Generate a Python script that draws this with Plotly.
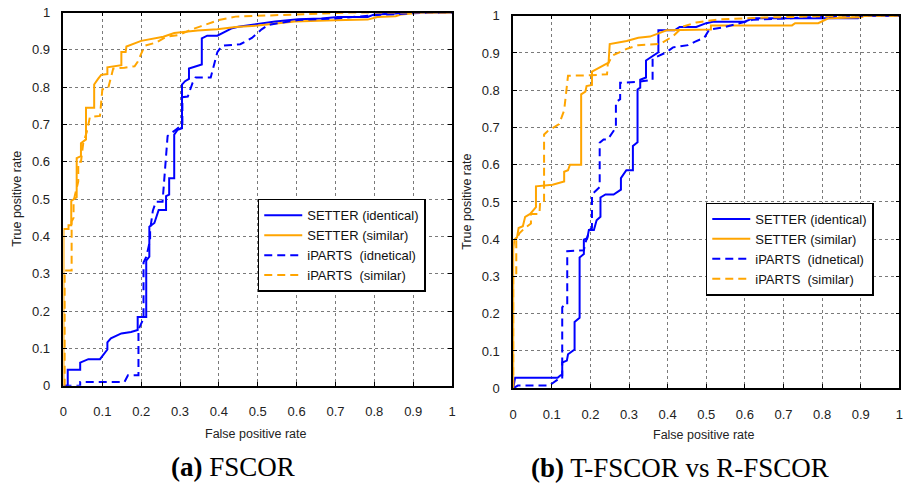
import plotly.graph_objects as go

W, H = 910, 488

# ---------------- data ----------------
# (a) FSCOR
a_setter_ident_x = [0, 0.011, 0.011, 0.043, 0.043, 0.064, 0.094, 0.102, 0.113, 0.113, 0.122, 0.149, 0.174, 0.191,
                    0.191, 0.213, 0.213, 0.221, 0.221, 0.234, 0.245, 0.264, 0.264, 0.272, 0.272, 0.285, 0.285, 0.294,
                    0.305, 0.305, 0.313, 0.323, 0.323, 0.356, 0.356, 0.370, 0.396, 0.434, 0.450, 0.545, 0.604, 0.664,
                    0.706, 0.783, 0.800, 0.911, 1.0]
a_setter_ident_y = [0, 0, 0.043, 0.043, 0.062, 0.071, 0.071, 0.081, 0.097, 0.116, 0.127, 0.140, 0.144, 0.149,
                    0.184, 0.184, 0.335, 0.346, 0.426, 0.436, 0.471, 0.471, 0.508, 0.512, 0.556, 0.556, 0.673, 0.686,
                    0.690, 0.807, 0.816, 0.822, 0.850, 0.861, 0.931, 0.938, 0.938, 0.958, 0.962, 0.976, 0.982, 0.984,
                    0.988, 0.988, 0.995, 1.0, 1.0]

a_setter_sim_x = [0, 0, 0.013, 0.013, 0.020, 0.020, 0.034, 0.034, 0.045, 0.045, 0.058, 0.058, 0.079, 0.079, 0.089,
                  0.097, 0.113, 0.113, 0.149, 0.149, 0.160, 0.162, 0.200, 0.234, 0.257, 0.285, 0.345, 0.396, 0.443,
                  0.500, 0.595, 0.698, 0.783, 0.808, 0.855, 0.870, 0.919, 1.0]
a_setter_sim_y = [0, 0.420, 0.420, 0.430, 0.430, 0.495, 0.505, 0.610, 0.615, 0.650, 0.660, 0.745, 0.745, 0.807, 0.822,
                  0.833, 0.835, 0.853, 0.859, 0.894, 0.894, 0.909, 0.924, 0.930, 0.935, 0.945, 0.952, 0.955, 0.961,
                  0.965, 0.976, 0.979, 0.981, 0.988, 0.990, 0.995, 1.0, 1.0]

a_iparts_ident_x = [0, 0.043, 0.043, 0.157, 0.166, 0.193, 0.193, 0.206, 0.206, 0.213, 0.223, 0.223, 0.230, 0.238,
                    0.255, 0.262, 0.268, 0.289, 0.306, 0.306, 0.320, 0.332, 0.340, 0.379, 0.396, 0.408, 0.455, 0.485,
                    0.510, 0.528, 0.604, 0.715, 0.800, 0.944, 1.0]
a_iparts_ident_y = [0, 0, 0.010, 0.010, 0.028, 0.028, 0.150, 0.180, 0.330, 0.345, 0.390, 0.417, 0.469, 0.493,
                    0.493, 0.590, 0.669, 0.686, 0.700, 0.773, 0.775, 0.811, 0.826, 0.826, 0.894, 0.911, 0.915, 0.932,
                    0.955, 0.967, 0.980, 0.985, 0.993, 1.0, 1.0]

a_iparts_sim_x = [0, 0.003, 0.003, 0.021, 0.021, 0.026, 0.026, 0.038, 0.038, 0.045, 0.051, 0.060, 0.068, 0.094,
                  0.100, 0.115, 0.123, 0.128, 0.157, 0.183, 0.191, 0.204, 0.209, 0.240, 0.264, 0.298, 0.328, 0.353,
                  0.379, 0.400, 0.443, 0.528, 0.740, 1.0]
a_iparts_sim_y = [0, 0, 0.309, 0.309, 0.440, 0.450, 0.495, 0.547, 0.600, 0.600, 0.651, 0.680, 0.720, 0.723,
                  0.794, 0.797, 0.829, 0.850, 0.852, 0.856, 0.868, 0.902, 0.911, 0.920, 0.935, 0.940, 0.954, 0.963,
                  0.972, 0.980, 0.989, 0.992, 1.0, 1.0]

# (b) T-FSCOR vs R-FSCOR
b_setter_ident_x = [0, 0.005, 0.115, 0.123, 0.127, 0.127, 0.139, 0.142, 0.159, 0.159, 0.172, 0.172, 0.183, 0.183,
                    0.192, 0.196, 0.209, 0.216, 0.226, 0.226, 0.239, 0.260, 0.279, 0.279, 0.293, 0.310, 0.310, 0.322,
                    0.322, 0.329, 0.329, 0.344, 0.344, 0.376, 0.376, 0.418, 0.431, 0.474, 0.500, 0.517, 0.600, 0.620,
                    0.893, 0.900, 1.0]
b_setter_ident_y = [0, 0.028, 0.028, 0.035, 0.035, 0.069, 0.074, 0.091, 0.104, 0.178, 0.189, 0.351, 0.360, 0.399,
                    0.403, 0.425, 0.425, 0.451, 0.460, 0.512, 0.520, 0.520, 0.533, 0.564, 0.585, 0.585, 0.650, 0.660,
                    0.802, 0.807, 0.828, 0.834, 0.880, 0.902, 0.961, 0.961, 0.970, 0.970, 0.980, 0.984, 0.984, 0.993,
                    0.993, 1.0, 1.0]

b_setter_sim_x = [0, 0, 0.003, 0.010, 0.014, 0.025, 0.031, 0.044, 0.059, 0.059, 0.102, 0.132, 0.132, 0.142, 0.147,
                  0.176, 0.176, 0.187, 0.190, 0.204, 0.204, 0.247, 0.250, 0.294, 0.324, 0.354, 0.380, 0.397, 0.512,
                  0.512, 0.722, 0.730, 0.790, 0.816, 0.902, 0.910, 1.0]
b_setter_sim_y = [0, 0.372, 0.399, 0.405, 0.430, 0.435, 0.460, 0.468, 0.486, 0.542, 0.546, 0.555, 0.581, 0.585, 0.600,
                  0.600, 0.789, 0.796, 0.811, 0.814, 0.850, 0.874, 0.924, 0.932, 0.941, 0.944, 0.954, 0.961, 0.963,
                  0.974, 0.974, 0.980, 0.980, 0.993, 0.996, 1.0, 1.0]

b_iparts_ident_x = [0, 0.012, 0.093, 0.119, 0.127, 0.127, 0.132, 0.140, 0.140, 0.183, 0.187, 0.198, 0.204, 0.204,
                    0.224, 0.224, 0.234, 0.245, 0.266, 0.266, 0.277, 0.277, 0.320, 0.361, 0.361, 0.380, 0.397, 0.414,
                    0.453, 0.470, 0.495, 0.508, 0.542, 0.620, 0.816, 0.860, 1.0]
b_iparts_ident_y = [0, 0.007, 0.007, 0.026, 0.026, 0.217, 0.224, 0.224, 0.368, 0.370, 0.390, 0.425, 0.430, 0.520,
                    0.540, 0.659, 0.668, 0.668, 0.700, 0.768, 0.776, 0.820, 0.822, 0.828, 0.885, 0.893, 0.902, 0.915,
                    0.921, 0.930, 0.941, 0.963, 0.968, 0.989, 0.997, 1.0, 1.0]

b_iparts_sim_x = [0, 0, 0.008, 0.008, 0.016, 0.030, 0.046, 0.046, 0.068, 0.070, 0.080, 0.080, 0.089, 0.119, 0.132,
                  0.137, 0.142, 0.142, 0.200, 0.243, 0.245, 0.252, 0.257, 0.294, 0.324, 0.380, 0.414, 0.440, 0.474,
                  0.534, 0.650, 0.858, 1.0]
b_iparts_sim_y = [0, 0.303, 0.303, 0.399, 0.416, 0.430, 0.442, 0.468, 0.468, 0.503, 0.503, 0.681, 0.690, 0.709, 0.746,
                  0.789, 0.824, 0.839, 0.840, 0.843, 0.870, 0.885, 0.893, 0.911, 0.921, 0.924, 0.945, 0.971, 0.982,
                  0.990, 0.995, 1.0, 1.0]

series_names = ["SETTER (identical)", "SETTER (similar)", "iPARTS\u00a0\u00a0(idnetical)", "iPARTS\u00a0\u00a0(similar)"]
tick_vals = [0, 0.1, 0.2, 0.3, 0.4, 0.5, 0.6, 0.7, 0.8, 0.9, 1]
tick_text = ["0", "0.1", "0.2", "0.3", "0.4", "0.5", "0.6", "0.7", "0.8", "0.9", "1"]
captions = ["<b>(a)</b> FSCOR", "<b>(b)</b> T-FSCOR vs R-FSCOR"]
x_title = "False positive rate"
y_title = "True positive rate"

BLUE = "#0000FF"
ORANGE = "#FFA500"
DASH = "8px,5px"

fig = go.Figure()

panels = [
    ("x", "y", "legend",
     [(a_setter_ident_x, a_setter_ident_y), (a_setter_sim_x, a_setter_sim_y),
      (a_iparts_ident_x, a_iparts_ident_y), (a_iparts_sim_x, a_iparts_sim_y)]),
    ("x2", "y2", "legend2",
     [(b_setter_ident_x, b_setter_ident_y), (b_setter_sim_x, b_setter_sim_y),
      (b_iparts_ident_x, b_iparts_ident_y), (b_iparts_sim_x, b_iparts_sim_y)]),
]
styles = [(BLUE, "solid"), (ORANGE, "solid"), (BLUE, DASH), (ORANGE, DASH)]

for xa, ya, lg, data in panels:
    for (xs, ys), name, (col, dash) in zip(data, series_names, styles):
        fig.add_trace(go.Scatter(x=xs, y=ys, mode="lines", name=name, xaxis=xa, yaxis=ya, legend=lg,
                                 line=dict(color=col, width=2, dash=dash)))

axis_common = dict(range=[0, 1], tickvals=tick_vals, ticktext=tick_text,
                   showgrid=True, gridcolor="#7a7a7a", griddash="dot", gridwidth=1,
                   showline=True, linecolor="black", linewidth=1.5, mirror="ticks",
                   ticks="inside", ticklen=4, tickcolor="black", zeroline=False,
                   tickfont=dict(family="Liberation Sans, Arial, sans-serif", size=13, color="#222"),
                   fixedrange=True)

def px_x(p):
    return p / W

def px_y(p):
    return 1 - p / H

legend_common = dict(xanchor="left", yanchor="top", bordercolor="black", borderwidth=1.5, bgcolor="white",
                     font=dict(family="Liberation Sans, Arial, sans-serif", size=13, color="#111"),
                     tracegroupgap=0, itemwidth=38)

fig.update_layout(
    width=W, height=H, margin=dict(l=0, r=0, t=0, b=0),
    paper_bgcolor="white", plot_bgcolor="white", showlegend=True,
    xaxis=dict(axis_common, domain=[px_x(60), px_x(452)], anchor="y", ticklabelstandoff=13),
    yaxis=dict(axis_common, domain=[px_y(390.7), px_y(5.7)], anchor="x", ticklabelstandoff=9),
    xaxis2=dict(axis_common, domain=[px_x(513.7), px_x(903.3)], anchor="y2", ticklabelstandoff=13),
    yaxis2=dict(axis_common, domain=[px_y(393.3), px_y(9)], anchor="x2", ticklabelstandoff=9),
    legend=dict(legend_common, x=px_x(256), y=px_y(198)),
    legend2=dict(legend_common, x=px_x(708), y=px_y(201.7)),
)

title_font = dict(family="Liberation Sans, Arial, sans-serif", size=12.5, color="#222")
cap_font = dict(family="Liberation Serif, Times New Roman, serif", size=27, color="black")
annots = [
    dict(text=x_title, x=px_x(254), y=px_y(441), font=title_font),
    dict(text=x_title, x=px_x(706), y=px_y(442), font=title_font),
    dict(text=y_title, x=px_x(13), y=px_y(198), textangle=-90, font=title_font),
    dict(text=y_title, x=px_x(467), y=px_y(201), textangle=-90, font=title_font),
    dict(text=captions[0], x=px_x(231), y=px_y(475), font=cap_font),
    dict(text=captions[1], x=px_x(682), y=px_y(476), font=cap_font),
]
for a in annots:
    fig.add_annotation(xref="paper", yref="paper", xanchor="center", yanchor="middle",
                       showarrow=False, **a)

fig.write_html("out.html")
